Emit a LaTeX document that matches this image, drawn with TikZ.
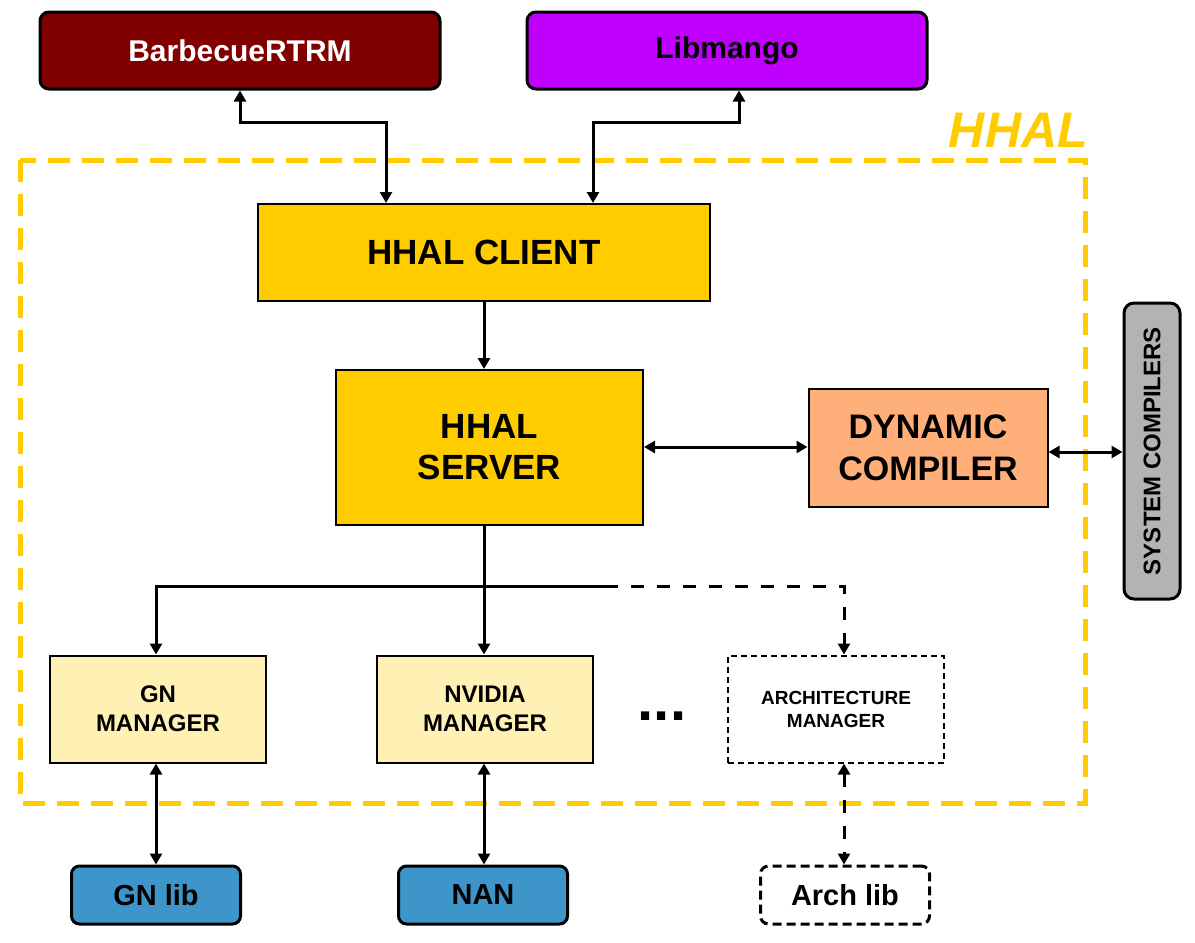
\documentclass[tikz,border=0pt]{standalone}
\usepackage{fontspec}
\setmainfont{Liberation Sans}
\usetikzlibrary{arrows.meta,calc}
\definecolor{hyellow}{HTML}{FFCC00}
\definecolor{bbqred}{HTML}{800000}
\definecolor{mango}{HTML}{C000FF}
\definecolor{dynorange}{HTML}{FFAF7A}
\definecolor{mgryellow}{HTML}{FFF0B3}
\definecolor{libblue}{HTML}{3D95C9}
\definecolor{sysgray}{HTML}{B3B3B3}
\newcommand{\fs}[2]{\fontsize{#1}{#2}\selectfont}
\tikzset{
  tip/.style={Triangle[length=10pt,width=12pt]},
  arr/.style={line width=3pt,-{Triangle[length=11pt,width=12pt]}},
  darr/.style={line width=3pt,{Triangle[length=11pt,width=12pt]}-{Triangle[length=11pt,width=12pt]}},
  plain/.style={line width=3pt},
  bdash/.style={dash pattern=on 13pt off 13pt},
  topbox/.style={draw=black,line width=3pt,rounded corners=9pt,inner sep=0pt,font=\bfseries\fs{30}{34}},
  corebox/.style={draw=black,line width=2pt,fill=hyellow,inner sep=0pt,align=center},
  mgrbox/.style={draw=black,line width=2pt,inner sep=0pt,align=center,font=\bfseries\fs{24}{29}},
  libbox/.style={draw=black,line width=3pt,rounded corners=8pt,inner sep=0pt,minimum width=169pt,minimum height=58pt,font=\bfseries\fs{29}{33}},
}
\begin{document}
\begin{tikzpicture}[x=1pt,y=-1pt]
\useasboundingbox (0,0) rectangle (1195,943);
% HHAL frame
\draw[hyellow,line width=5pt,dash pattern=on 22pt off 12pt] (20,160) rectangle (1085,803);
\node[anchor=base east,text=hyellow,inner sep=0pt,font=\bfseries\itshape\fs{50}{56}] (hhal) at (1088,147) {HHAL};
% top boxes
\node[topbox,fill=bbqred,text=white,minimum width=400pt,minimum height=77pt] (bbq) at (240,50.5) {BarbecueRTRM};
\node[topbox,fill=mango,text=black,minimum width=400pt,minimum height=77pt] (mango) at (727,50.5) {Libmango};
% core
\node[corebox,minimum width=452pt,minimum height=97pt,font=\bfseries\fs{35}{40}] (client) at (484,252.5) {HHAL CLIENT};
\node[corebox,minimum width=307pt,minimum height=155pt,font=\bfseries\fs{35}{41}] (server) at (489.5,447.5) {HHAL\\SERVER};
\node[corebox,fill=dynorange,minimum width=239pt,minimum height=118pt,font=\bfseries\fs{34}{42}] (dyn) at (928,448) {DYNAMIC\\COMPILER};
\node[draw=black,line width=3pt,rounded corners=10pt,fill=sysgray,minimum width=56pt,minimum height=296pt,inner sep=0pt] (sys) at (1152,451) {};
\node[rotate=90,inner sep=0pt,font=\bfseries\fs{24}{28}] (syst) at (sys.center) {SYSTEM COMPILERS};
% managers
\node[mgrbox,fill=mgryellow,minimum width=216pt,minimum height=107pt] (gn) at (158,709) {GN\\MANAGER};
\node[mgrbox,fill=mgryellow,minimum width=216pt,minimum height=107pt] (nv) at (485,709) {NVIDIA\\MANAGER};
\node[mgrbox,dash pattern=on 6pt off 4pt,fill=white,minimum width=216pt,minimum height=107pt,font=\bfseries\fs{19}{23}] (arch) at (836,709) {ARCHITECTURE\\MANAGER};
\node[anchor=base,inner sep=0pt,font=\bfseries\fs{58}{60}] (dots) at (662,720) {...};
% libs
\node[libbox,fill=libblue] (gnlib) at (156,895) {GN lib};
\node[libbox,fill=libblue] (nan) at (483,895) {NAN};
\node[libbox,fill=white,dash pattern=on 9pt off 5pt] (archlib) at (845,895) {Arch lib};
% helper coordinates
\coordinate (xbbq) at (240,0);
\coordinate (xcl1) at (386,0);
\coordinate (xmg) at (739,0);
\coordinate (xcl2) at (593,0);
\coordinate (ytop) at (0,122);
\coordinate (xc) at (484,0);
\coordinate (xgn) at (156,0);
\coordinate (xar) at (844,0);
\coordinate (ybus) at (0,586);
\coordinate (ydyn1) at (0,447);
\coordinate (ydyn2) at (0,452);
\coordinate (busmid) at (605,586);
% top connectors
\draw[darr] (bbq.south -| xbbq) -- (xbbq |- ytop) -- (xcl1 |- ytop) -- (client.north -| xcl1);
\draw[darr] (mango.south -| xmg) -- (xmg |- ytop) -- (xcl2 |- ytop) -- (client.north -| xcl2);
% client -> server
\draw[arr] (client.south -| xc) -- (server.north -| xc);
% server <-> dyn <-> sys
\draw[darr] (server.east |- ydyn1) -- (dyn.west |- ydyn1);
\draw[darr] (dyn.east |- ydyn2) -- (sys.west |- ydyn2);
% bus
\draw[arr] (server.south -| xc) -- (nv.north -| xc);
\draw[arr] (busmid) -- (xgn |- ybus) -- (gn.north -| xgn);
\draw[arr,bdash] (busmid) -- (xar |- ybus) -- (arch.north -| xar);
% manager <-> libs
\draw[darr] (gn.south -| xgn) -- (gnlib.north -| xgn);
\draw[darr] (nv.south -| xc) -- (nan.north -| xc);
\draw[darr,bdash] (arch.south -| xar) -- (archlib.north -| xar);
\end{tikzpicture}
\end{document}
